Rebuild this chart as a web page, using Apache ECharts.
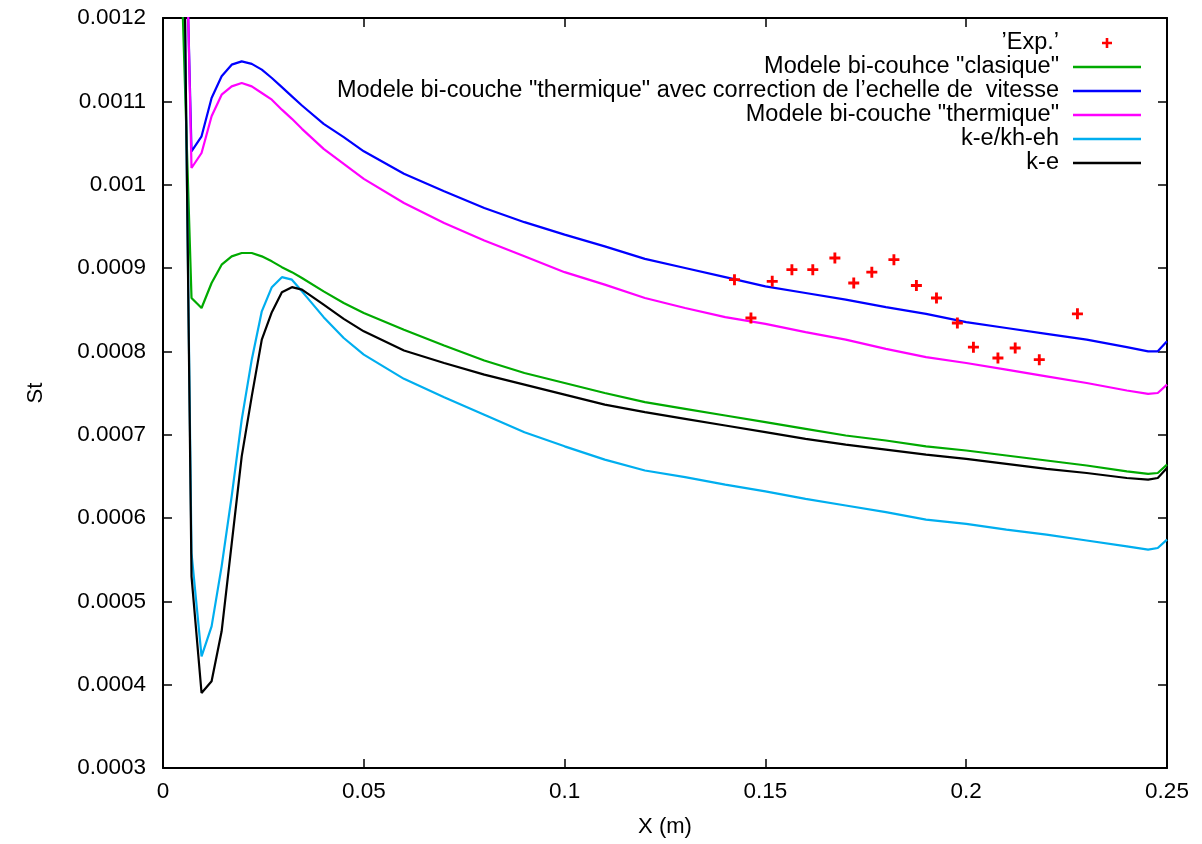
<!DOCTYPE html>
<html><head><meta charset="utf-8">
<script src="https://cdn.jsdelivr.net/npm/echarts@6/dist/echarts.min.js"></script>
<style>html,body{margin:0;padding:0;background:#fff}#c{width:1202px;height:844px}</style>
</head><body><div id="c"></div>
<script>
// ---- data ----
const X_TICKS = [0, 0.05, 0.1, 0.15, 0.2, 0.25];
const Y_TICKS = [0.0003, 0.0004, 0.0005, 0.0006, 0.0007, 0.0008, 0.0009, 0.001, 0.0011, 0.0012];

const X = [0.0047, 0.0071, 0.0096, 0.0121, 0.0146, 0.0171, 0.0196, 0.0221, 0.0246, 0.0271,
  0.0296, 0.0321, 0.0346, 0.04, 0.045, 0.05, 0.06, 0.07, 0.08, 0.09,
  0.10, 0.11, 0.12, 0.13, 0.14, 0.15, 0.16, 0.17, 0.18, 0.19,
  0.20, 0.21, 0.22, 0.23, 0.24, 0.2453, 0.2477, 0.25];

const CLASIQUE = [0.00124, 0.000864, 0.000852, 0.000882, 0.000904, 0.000914, 0.000918, 0.000918, 0.000914, 0.000908,
  0.000901, 0.000895, 0.000888, 0.000872, 0.000858, 0.000846, 0.000826, 0.000807, 0.000789, 0.000774,
  0.000762, 0.000750, 0.000739, 0.000731, 0.000723, 0.000715, 0.000707, 0.000699, 0.000693, 0.000686,
  0.000681, 0.000675, 0.000669, 0.000663, 0.000656, 0.000653, 0.000654, 0.000664];

const THERM_CORR = [0.00151, 0.001040, 0.001058, 0.001104, 0.001130, 0.001144, 0.001148, 0.001145, 0.001138, 0.001128,
  0.001117, 0.001106, 0.001095, 0.001073, 0.001057, 0.001040, 0.001013, 0.000992, 0.000972, 0.000955,
  0.000940, 0.000926, 0.000911, 0.000900, 0.000889, 0.000878, 0.000870, 0.000862, 0.000853, 0.000845,
  0.000835, 0.000828, 0.000821, 0.000814, 0.000805, 0.000800, 0.000800, 0.000812];

const THERM = [0.00155, 0.001020, 0.001038, 0.001082, 0.001108, 0.001118, 0.001122, 0.001118, 0.001110, 0.001102,
  0.001090, 0.001079, 0.001067, 0.001043, 0.001025, 0.001007, 0.000978, 0.000954, 0.000933, 0.000914,
  0.000895, 0.000880, 0.000864, 0.000852, 0.000841, 0.000833, 0.000823, 0.000814, 0.000803, 0.000793,
  0.000786, 0.000778, 0.000770, 0.000762, 0.000753, 0.000749, 0.000750, 0.000760];

const KE_KHEH = [0.0015, 0.000558, 0.000434, 0.000470, 0.000542, 0.000626, 0.000718, 0.000790, 0.000848, 0.000877,
  0.000889, 0.000886, 0.000872, 0.000841, 0.000816, 0.000796, 0.000767, 0.000745, 0.000724, 0.000703,
  0.000686, 0.000670, 0.000657, 0.000649, 0.000640, 0.000632, 0.000623, 0.000615, 0.000607, 0.000598,
  0.000593, 0.000586, 0.000580, 0.000573, 0.000566, 0.000562, 0.000564, 0.000574];

const KE = [0.00153, 0.000530, 0.000390, 0.000404, 0.000464, 0.000569, 0.000674, 0.000746, 0.000814, 0.000847,
  0.000871, 0.000877, 0.000874, 0.000856, 0.000839, 0.000824, 0.000801, 0.000786, 0.000772, 0.000760,
  0.000748, 0.000736, 0.000727, 0.000719, 0.000711, 0.000703, 0.000695, 0.000688, 0.000682, 0.000676,
  0.000671, 0.000665, 0.000659, 0.000654, 0.000648, 0.000646, 0.000648, 0.000660];

const EXP_X = [0.1423, 0.1464, 0.1517, 0.1566, 0.1618, 0.1673, 0.1720, 0.1765, 0.1820, 0.1876,
  0.1926, 0.1978, 0.2018, 0.2079, 0.2122, 0.2182, 0.2277];
const EXP_Y = [0.000886, 0.000840, 0.000884, 0.000898, 0.000898, 0.000912, 0.000882, 0.000895, 0.000910, 0.000879,
  0.000864, 0.000834, 0.000805, 0.000792, 0.000804, 0.000790, 0.000845];

const NAMES = ['\u2019Exp.\u2019', 'Modele bi-couhce "clasique"',
  'Modele bi-couche "thermique" avec correction de l\u2019echelle de  vitesse',
  'Modele bi-couche "thermique"', 'k-e/kh-eh', 'k-e'];

// ---- chart ----
const FONT = '"Liberation Sans", Arial, sans-serif';
const pairs = (xs, ys) => xs.map((x, i) => [x, ys[i]]);
const fmt = (ticks, d) => v => { const t = ticks.find(k => Math.abs(k - v) < 1e-9); return String(+(t !== undefined ? t : v).toFixed(d)); };
const tick = { show: true, inside: true, length: 9, lineStyle: { color: '#000', width: 1.5 } };
const line = { show: true, onZero: false, lineStyle: { color: '#000', width: 2 } };
const PLUS = 'path://M3.7,0H6.3V3.7H10V6.3H6.3V10H3.7V6.3H0V3.7H3.7Z';
const BAR = 'path://M0,0H68V2.4H0Z';

const xBase = { type: 'value', min: X_TICKS[0], max: X_TICKS[X_TICKS.length - 1], interval: 0.05,
  axisLine: line, axisTick: tick, splitLine: { show: false } };
const yBase = { type: 'value', min: Y_TICKS[0], max: Y_TICKS[Y_TICKS.length - 1], interval: 0.0001,
  axisLine: line, axisTick: tick, splitLine: { show: false } };

const mk = (name, data, color) => ({ name, type: 'line', data: pairs(X, data), symbol: 'none', clip: true,
  lineStyle: { color, width: 2.2 }, itemStyle: { color }, emphasis: { disabled: true } });

const option = {
  animation: false,
  backgroundColor: '#fff',
  grid: { left: 163, right: 35, top: 18, bottom: 76, containLabel: false },
  xAxis: [
    Object.assign({}, xBase, { position: 'bottom', name: 'X (m)', nameLocation: 'middle', nameGap: 48,
      nameTextStyle: { fontFamily: FONT, fontSize: 22, color: '#000' },
      axisLabel: { show: true, margin: 12, fontFamily: FONT, fontSize: 22.5, color: '#000', formatter: fmt(X_TICKS, 2) } }),
    Object.assign({}, xBase, { position: 'top', axisLabel: { show: false } })
  ],
  yAxis: [
    Object.assign({}, yBase, { position: 'left', name: 'St', nameLocation: 'middle', nameGap: 116, nameRotate: 90,
      nameTextStyle: { fontFamily: FONT, fontSize: 22, color: '#000' },
      axisLabel: { show: true, margin: 17, fontFamily: FONT, fontSize: 22.5, color: '#000', formatter: fmt(Y_TICKS, 4) } }),
    Object.assign({}, yBase, { position: 'right', axisLabel: { show: false } })
  ],
  legend: {
    orient: 'vertical', right: 61, top: 31, align: 'right', itemGap: 0, itemWidth: 68, itemHeight: 10,
    padding: 0, selectedMode: false,
    textStyle: { fontFamily: FONT, fontSize: 23.5, color: '#000', lineHeight: 23.2, padding: [0, 9, 0, 0] },
    data: NAMES.map((n, i) => i === 0 ? { name: n } : { name: n, icon: BAR })
  },
  series: [
    { name: NAMES[0], type: 'scatter', data: pairs(EXP_X, EXP_Y), symbol: PLUS, symbolSize: 11,
      itemStyle: { color: '#ff0000', opacity: 1 }, emphasis: { disabled: true }, z: 3 },
    mk(NAMES[1], CLASIQUE, '#00aa00'),
    mk(NAMES[2], THERM_CORR, '#0000ff'),
    mk(NAMES[3], THERM, '#ff00ff'),
    mk(NAMES[4], KE_KHEH, '#00aeef'),
    mk(NAMES[5], KE, '#000000')
  ]
};
const chart = echarts.init(document.getElementById('c'), null, { renderer: 'canvas' });
chart.setOption(option);
</script></body></html>
